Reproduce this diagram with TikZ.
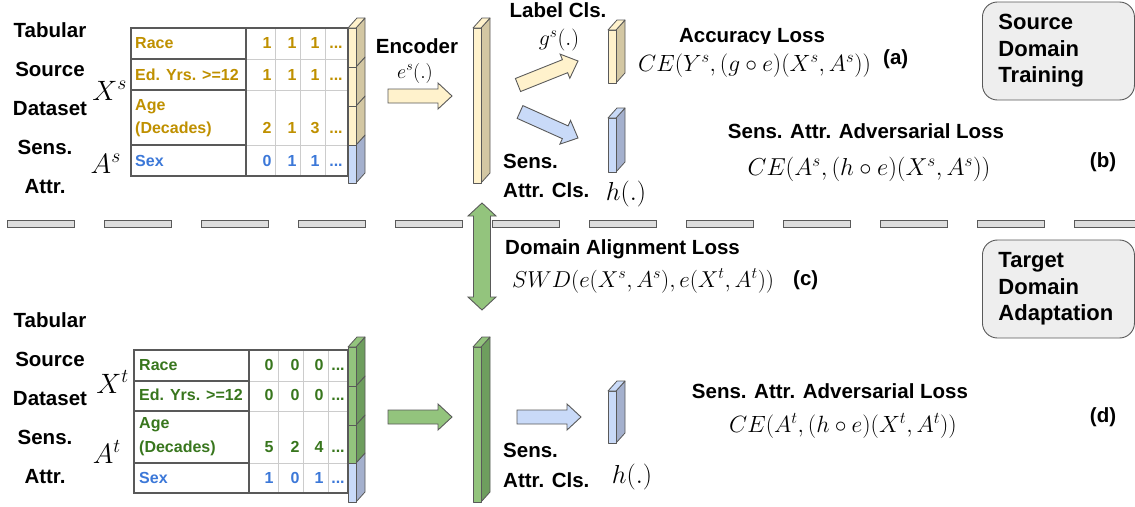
\RequirePackage{fix-cm}
\documentclass[tikz,border=0pt]{standalone}
\usepackage[no-math]{fontspec}
\setmainfont{Liberation Sans}
\usetikzlibrary{calc}

\definecolor{gold}{HTML}{BF9000}
\definecolor{sexblue}{HTML}{3C78D8}
\definecolor{grn}{HTML}{38761D}
\definecolor{yfront}{HTML}{FFF2CC}
\definecolor{yside}{HTML}{D3C7A3}
\definecolor{bfront}{HTML}{C9DAF8}
\definecolor{bside}{HTML}{A4B0CD}
\definecolor{gfront}{HTML}{93C47D}
\definecolor{gside}{HTML}{6E9E5E}
\definecolor{edge}{HTML}{595959}
\definecolor{gridl}{HTML}{CCCCCC}
\definecolor{boxfill}{HTML}{EEEEEE}
\definecolor{dashfill}{HTML}{DDDDDD}

\tikzset{
  lbl/.style={font=\fontsize{20.5}{24}\selectfont\bfseries, inner sep=0pt},
  cell/.style={font=\fontsize{16}{19}\selectfont\bfseries, inner sep=0pt},
  mth/.style={font=\fontsize{23.5}{27}\selectfont, inner sep=0pt},
  mthbig/.style={font=\fontsize{28}{32}\selectfont, inner sep=0pt},
  mthh/.style={font=\fontsize{26}{30}\selectfont, inner sep=0pt},
  pr/.style={draw=edge, line width=0.8pt, line join=round},
  blk/.style={draw=edge, line width=0.9pt, line join=miter},
  rbox/.style={draw=edge, fill=boxfill, line width=0.9pt, rounded corners=15pt,
    minimum width=152pt, minimum height=98pt, inner xsep=16pt, text width=120pt,
    align=left, font=\fontsize{22}{26.5}\selectfont\bfseries},
  dashbar/.style={draw=edge, fill=dashfill, line width=0.8pt}
}

% front segment + side face of a bar
\newcommand\segment[6]{%
  \filldraw[pr, fill=#6] (#3,#2) -- (#3+9,#2-10) -- (#3+9,#4-10) -- (#3,#4) -- cycle;
  \filldraw[pr, fill=#5] (#1,#2) rectangle (#3,#4);
}
\newcommand\prismtop[4]{%
  \filldraw[pr, fill=#4] (#1,#2) -- (#1+9,#2-10) -- (#3+9,#2-10) -- (#3,#2) -- cycle;
}
\newcommand\prism[6]{\segment{#1}{#2}{#3}{#4}{#5}{#6}\prismtop{#1}{#2}{#3}{#5}}

% block arrow: style, from, to, shaft half, head half, head length
\newcommand\blockarrow[6]{%
  \coordinate (hb) at ($(#3)!#6pt!(#2)$);
  \draw[#1] ($(#2)!#4pt!90:(#3)$) -- ($(hb)!#4pt!90:(#3)$) -- ($(hb)!#5pt!90:(#3)$)
    -- (#3) -- ($(hb)!#5pt!-90:(#3)$) -- ($(hb)!#4pt!-90:(#3)$) -- ($(#2)!#4pt!-90:(#3)$) -- cycle;
}
\newcommand\dblarrow[6]{%
  \coordinate (ha) at ($(#2)!#6pt!(#3)$);
  \coordinate (hb) at ($(#3)!#6pt!(#2)$);
  \draw[#1] (#2) -- ($(ha)!#5pt!90:(#3)$) -- ($(ha)!#4pt!90:(#3)$) -- ($(hb)!#4pt!90:(#3)$)
    -- ($(hb)!#5pt!90:(#3)$) -- (#3) -- ($(hb)!#5pt!-90:(#3)$) -- ($(hb)!#4pt!-90:(#3)$)
    -- ($(ha)!#4pt!-90:(#3)$) -- ($(ha)!#5pt!-90:(#3)$) -- cycle;
}

% table grid: xL, xC, y0..y4
\newcommand\tablegrid[7]{%
  \draw[gridl, line width=0.8pt] (#2,#4) -- (348,#4) (#2,#5) -- (348,#5) (#2,#6) -- (348,#6)
    (#2+29,#3) -- (#2+29,#7) (#2+54,#3) -- (#2+54,#7) (#2+79,#3) -- (#2+79,#7);
  \draw[edge, line width=1.1pt] (#1,#4) -- (#2,#4) (#1,#5) -- (#2,#5) (#1,#6) -- (#2,#6) (#2,#3) -- (#2,#7);
  \draw[edge, line width=1.1pt] (#1,#3) rectangle (348,#7);
}
\def\dd{...}

\begin{document}
\begin{tikzpicture}[x=1pt,y=-1pt]
\useasboundingbox (0,0) rectangle (1135,506);

% ---------------- separator ----------------
\foreach \k in {0,...,11} \filldraw[dashbar] ({7+97*\k},220) rectangle ++(67,7);

% ---------------- SOURCE (top) ----------------
\node[lbl, anchor=base] (s-tab) at (50,37) {Tabular};
\node[lbl, anchor=base] (s-src) at (50,76) {Source};
\node[lbl, anchor=base] (s-dat) at (50,115) {Dataset};
\node[lbl, anchor=base] (s-sens) at (45,154) {Sens.};
\node[lbl, anchor=base] (s-attr) at (45,193) {Attr.};
\node[mthbig, anchor=base east] (s-X) at (127,100) {$X^s$};
\node[mthbig, anchor=base east] (s-A) at (121,173) {$A^s$};

\tablegrid{131}{246}{28}{59}{90}{145}{176}
\node[cell, text=gold, anchor=base west] (s-race) at (135,48) {Race};
\node[cell, text=gold, anchor=base west] (s-ed) at (135,80) {Ed. Yrs. >=12};
\node[cell, text=gold, anchor=base west] (s-age) at (135,110) {Age};
\node[cell, text=gold, anchor=base west] (s-dec) at (135,133) {(Decades)};
\node[cell, text=sexblue, anchor=base west] (s-sex) at (135,166) {Sex};
\foreach \v/\x [count=\i] in {1/267,1/292,1/315,\dd/336}
  \node[cell, text=gold, anchor=base] (s-r1-\i) at (\x,48) {\v};
\foreach \v/\x [count=\i] in {1/267,1/292,1/315,\dd/336}
  \node[cell, text=gold, anchor=base] (s-r2-\i) at (\x,80) {\v};
\foreach \v/\x [count=\i] in {2/267,1/292,3/315,\dd/336}
  \node[cell, text=gold, anchor=base] (s-r3-\i) at (\x,133) {\v};
\foreach \v/\x [count=\i] in {0/267,1/292,1/315,\dd/336}
  \node[cell, text=sexblue, anchor=base] (s-r4-\i) at (\x,166) {\v};

% table bar (source)
\segment{348}{145}{356}{183}{bfront}{bside}
\segment{348}{106}{356}{145}{yfront}{yside}
\segment{348}{67}{356}{106}{yfront}{yside}
\segment{348}{28}{356}{67}{yfront}{yside}
\prismtop{348}{28}{356}{yfront}

% encoder
\node[lbl, anchor=base] (enc) at (417,53) {Encoder};
\node[font=\fontsize{20}{24}\selectfont, inner sep=0pt, anchor=base] (es) at (415,78) {$e^s(.)$};
\coordinate (encA1) at (388,96);
\coordinate (encA2) at (452,96);
\blockarrow{blk, fill=yfront}{encA1}{encA2}{7}{13}{14}
\prism{473}{28}{481}{183}{yfront}{yside}

% label classifier
\node[lbl, anchor=base] (lcls) at (558,17) {Label Cls.};
\node[font=\fontsize{22}{26}\selectfont, inner sep=0pt, anchor=base] (gs) at (559,45) {$g^s(.)$};
\coordinate (gA1) at (518,85);
\coordinate (gA2) at (578,61);
\blockarrow{blk, fill=yfront}{gA1}{gA2}{7}{13}{14}
\prism{608}{30}{616}{83}{yfront}{yside}

% sensitive attribute classifier
\coordinate (hA1) at (520,112);
\coordinate (hA2) at (578,138);
\blockarrow{blk, fill=bfront}{hA1}{hA2}{7}{13}{14}
\prism{608}{118}{616}{172}{bfront}{bside}
\node[lbl, anchor=base west] (s-scls1) at (503,168) {Sens.};
\node[lbl, anchor=base west] (s-scls2) at (503,197) {Attr. Cls.};
\node[mthh, anchor=base] (s-h) at (626,200) {$h(.)$};

% losses
\begin{scope}
  \clip (600,0) rectangle (900,43);
  \node[lbl, anchor=base, text depth=0pt] (accl) at (752,42) {Accuracy Loss};
\end{scope}
\node[mth, anchor=base west] (ceY) at (638,71) {$CE(Y^s,(g\circ e)(X^s,A^s))$};
\node[lbl, anchor=base west] (la) at (883,64) {(a)};
\node[lbl, anchor=base] (s-adv) at (866,138) {Sens. Attr. Adversarial Loss};
\node[font=\fontsize{24.5}{28}\selectfont, inner sep=0pt, anchor=base] (ceAs) at (869,175) {$CE(A^s,(h\circ e)(X^s,A^s))$};
\node[lbl, anchor=base] (lb) at (1103,167) {(b)};

\node[rbox, anchor=west] (srcbox) at (982,51) {Source\\Domain\\Training};

% ---------------- domain alignment ----------------
\coordinate (dA1) at (482,203);
\coordinate (dA2) at (482,310);
\dblarrow{blk, fill=gfront}{dA1}{dA2}{8.5}{14}{13}
\node[lbl, anchor=base west] (dal) at (505,254) {Domain Alignment Loss};
\node[font=\fontsize{23}{27}\selectfont, inner sep=0pt, anchor=base west] (swd) at (512,287) {$SWD(e(X^s,A^s),e(X^t,A^t))$};
\node[lbl, anchor=base west] (lc) at (793,285) {(c)};

\node[rbox, anchor=west] (tgtbox) at (982,289) {Target\\Domain\\Adaptation};

% ---------------- TARGET (bottom) ----------------
\node[lbl, anchor=base] (t-tab) at (50,327) {Tabular};
\node[lbl, anchor=base] (t-src) at (50,366) {Source};
\node[lbl, anchor=base] (t-dat) at (50,405) {Dataset};
\node[lbl, anchor=base] (t-sens) at (45,444) {Sens.};
\node[lbl, anchor=base] (t-attr) at (45,483) {Attr.};
\node[mthbig, anchor=base east] (t-X) at (129,393) {$X^t$};
\node[mthbig, anchor=base east] (t-A) at (121,463) {$A^t$};

\tablegrid{134}{249}{350}{381}{411}{463}{493}
\node[cell, text=grn, anchor=base west] (t-race) at (139,370) {Race};
\node[cell, text=grn, anchor=base west] (t-ed) at (139,400) {Ed. Yrs. >=12};
\node[cell, text=grn, anchor=base west] (t-age) at (139,428) {Age};
\node[cell, text=grn, anchor=base west] (t-dec) at (139,452) {(Decades)};
\node[cell, text=sexblue, anchor=base west] (t-sex) at (139,483) {Sex};
\foreach \v/\x [count=\i] in {0/269,0/295,0/319,\dd/338}
  \node[cell, text=grn, anchor=base] (t-r1-\i) at (\x,370) {\v};
\foreach \v/\x [count=\i] in {0/269,0/295,0/319,\dd/338}
  \node[cell, text=grn, anchor=base] (t-r2-\i) at (\x,400) {\v};
\foreach \v/\x [count=\i] in {5/269,2/295,4/319,\dd/338}
  \node[cell, text=grn, anchor=base] (t-r3-\i) at (\x,452) {\v};
\foreach \v/\x [count=\i] in {1/269,0/295,1/319,\dd/338}
  \node[cell, text=sexblue, anchor=base] (t-r4-\i) at (\x,483) {\v};

\segment{348}{463}{356}{502}{bfront}{bside}
\segment{348}{425}{356}{463}{gfront}{gside}
\segment{348}{386}{356}{425}{gfront}{gside}
\segment{348}{347}{356}{386}{gfront}{gside}
\prismtop{348}{347}{356}{gfront}

\coordinate (tA1) at (388,417);
\coordinate (tA2) at (452,417);
\blockarrow{blk, fill=gfront}{tA1}{tA2}{7}{13}{14}
\prism{473}{347}{481}{502}{gfront}{gside}

\coordinate (thA1) at (517,417);
\coordinate (thA2) at (581,417);
\blockarrow{blk, fill=bfront}{thA1}{thA2}{7}{13}{14}
\prism{608}{391}{616}{443}{bfront}{bside}
\node[lbl, anchor=base west] (t-scls1) at (503,457) {Sens.};
\node[lbl, anchor=base west] (t-scls2) at (503,487) {Attr. Cls.};
\node[mthh, anchor=base] (t-h) at (632,483) {$h(.)$};

\node[lbl, anchor=base] (t-adv) at (830,398) {Sens. Attr. Adversarial Loss};
\node[mth, anchor=base] (ceAt) at (843,432) {$CE(A^t,(h\circ e)(X^t,A^t))$};
\node[lbl, anchor=base] (ld) at (1103,422) {(d)};

\end{tikzpicture}
\end{document}
